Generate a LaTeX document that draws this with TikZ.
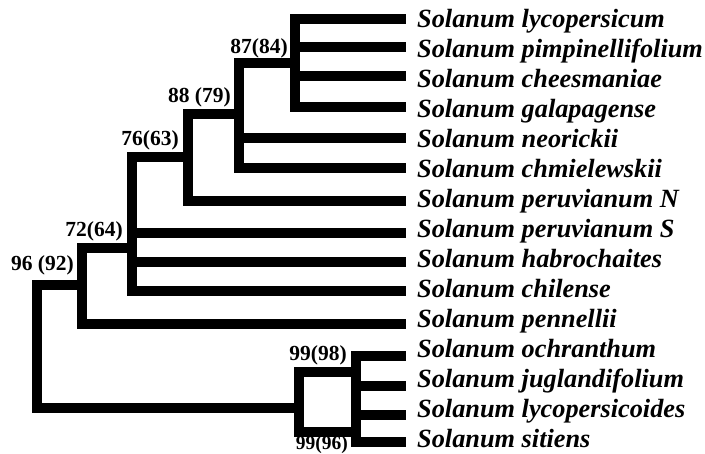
\documentclass[tikz,border=0pt]{standalone}
\usepackage{fontspec}
\setmainfont{Liberation Serif}
\begin{document}
\begin{tikzpicture}[x=1pt,y=-1pt,
  branch/.style={line width=10pt, line join=miter, line cap=butt},
  tip/.style={anchor=base west, inner sep=0pt, font=\bfseries\itshape\fontsize{26.3}{30}\selectfont},
  boot/.style={anchor=base east, inner sep=0pt, font=\bfseries\fontsize{21.5}{24}\selectfont}]
\useasboundingbox (0,0) rectangle (705,454);
% internal nodes
\coordinate (nA) at (295,63);
\coordinate (nB) at (239,114);
\coordinate (nC) at (187.5,157);
\coordinate (nD) at (131.5,248);
\coordinate (nE) at (82,285);
\coordinate (root) at (36.5,346);
\coordinate (nF) at (298.5,408);
\coordinate (nG1) at (356,372);
\coordinate (nG2) at (356,432);
% stub ends
\coordinate (s1) at (406,19);
\coordinate (s2) at (406,47);
\coordinate (s3) at (406,76);
\coordinate (s4) at (406,107);
\coordinate (s5) at (406,138);
\coordinate (s6) at (406,168);
\coordinate (s7) at (406,201);
\coordinate (s8) at (406,233);
\coordinate (s9) at (406,262);
\coordinate (s10) at (406,291);
\coordinate (s11) at (406,324);
\coordinate (s12) at (406,356);
\coordinate (s13) at (406,386);
\coordinate (s14) at (406,415);
\coordinate (s15) at (406,442);
% branches
\draw[branch] (nA) |- (s1);
\draw[branch] (nA) |- (s2);
\draw[branch] (nA) |- (s3);
\draw[branch] (nA) |- (s4);
\draw[branch] (nB) |- (nA);
\draw[branch] (nB) |- (s5);
\draw[branch] (nB) |- (s6);
\draw[branch] (nC) |- (nB);
\draw[branch] (nC) |- (s7);
\draw[branch] (nD) |- (nC);
\draw[branch] (nD) |- (s8);
\draw[branch] (nD) |- (s9);
\draw[branch] (nD) |- (s10);
\draw[branch] (nE) |- (nD);
\draw[branch] (nE) |- (s11);
\draw[branch] (root) |- (nE);
\draw[branch] (root) |- (nF);
\draw[branch] (nF) |- (nG1);
\draw[branch] (nF) |- (nG2);
\draw[branch] (nG1) -- (nG2);
\draw[branch] (nG1) |- (s12);
\draw[branch] (nG1) |- (s13);
\draw[branch] (nG2) |- (s14);
\draw[branch] (nG2) |- (s15);
% taxa
\node[tip] (t1) at (417,28) {Solanum lycopersicum};
\node[tip] (t2) at (417,58) {Solanum pimpinellifolium};
\node[tip] (t3) at (417,88) {Solanum cheesmaniae};
\node[tip] (t4) at (417,118) {Solanum galapagense};
\node[tip] (t5) at (417,148) {Solanum neorickii};
\node[tip] (t6) at (417,178) {Solanum chmielewskii};
\node[tip] (t7) at (417,208) {Solanum peruvianum N};
\node[tip] (t8) at (417,238) {Solanum peruvianum S};
\node[tip] (t9) at (417,268) {Solanum habrochaites};
\node[tip] (t10) at (417,298) {Solanum chilense};
\node[tip] (t11) at (417,328) {Solanum pennellii};
\node[tip] (t12) at (417,358) {Solanum ochranthum};
\node[tip] (t13) at (417,388) {Solanum juglandifolium};
\node[tip] (t14) at (417,418) {Solanum lycopersicoides};
\node[tip] (t15) at (417,448) {Solanum sitiens};
% support values
\node[boot] (b1) at (288,54) {87(84)};
\node[boot] (b2) at (231,103) {88 (79)};
\node[boot] (b3) at (179,146) {76(63)};
\node[boot] (b4) at (123,237) {72(64)};
\node[boot] (b5) at (74,271) {96 (92)};
\node[boot] (b6) at (347,361) {99(98)};
\node[boot, font=\bfseries\fontsize{19.5}{22}\selectfont] (b7) at (348,449.5) {99(96)};
\end{tikzpicture}
\end{document}
